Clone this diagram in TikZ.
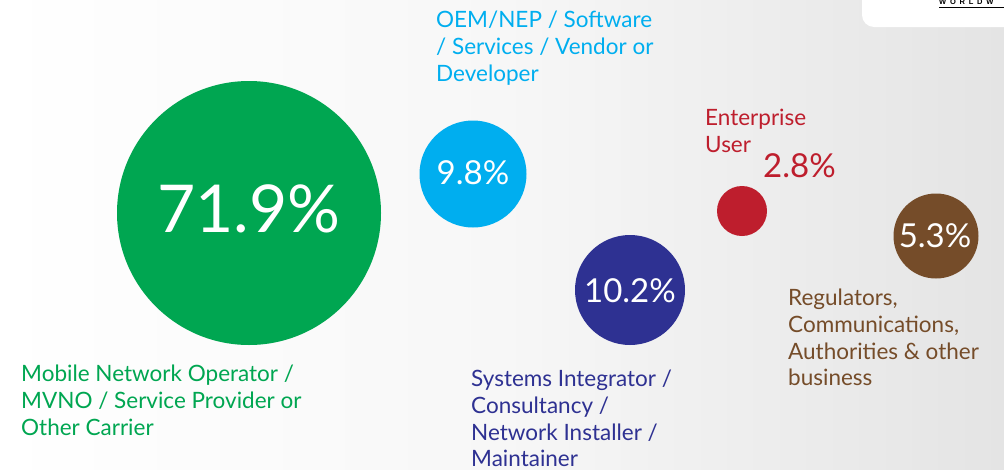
\documentclass[tikz,border=0pt]{standalone}
\usepackage{fontspec}
\setmainfont{Lato}
\newfontfamily\logofont{Liberation Sans}
\definecolor{cgreen}{HTML}{00A651}
\definecolor{cblue}{HTML}{00AEEF}
\definecolor{cnavy}{HTML}{2E3192}
\definecolor{cred}{HTML}{BE1E2D}
\definecolor{cbrown}{HTML}{754C29}
\definecolor{bgright}{HTML}{E4E4E4}
\definecolor{bgmid}{HTML}{F7F7F7}
\tikzset{x=1pt,y=-1pt,
 bub/.style={circle,inner sep=0pt,text=white},
 pct/.style={text=white,inner sep=0pt,font=\fontsize{33}{33}\selectfont},
 lab/.style={anchor=north west,inner sep=0pt,align=left,font=\fontsize{22.5}{26.7}\selectfont}}
\begin{document}
\begin{tikzpicture}
\useasboundingbox (0,0) rectangle (1004,469);
\shade[left color=white,right color=bgright,middle color=bgmid] (0,0) rectangle (1004,469);
\fill[white,rounded corners=12pt] (862,-20) rectangle (1024,27);
\node[font=\logofont\bfseries\fontsize{7.5}{7.5}\selectfont,anchor=west,inner sep=0pt] (w) at (939,2) {W\,\,\,O\,\,\,R\,\,\,L\,\,\,D\,\,\,W};
\coordinate (u1) at (939,7.5);
\coordinate (u2) at (1004,7.5);
\draw[line width=0.8pt] (u1) -- (u2);
\node[bub,fill=cgreen,minimum size=264pt] (a) at (249,213) {};
\node[text=white,inner sep=0pt,font=\fontsize{66}{66}\selectfont] (at) at (249,209) {71.9\%};
\node[bub,fill=cblue,minimum size=107pt] (b) at (473,174) {};
\node[pct] (bt) at (473,173) {9.8\%};
\node[bub,fill=cnavy,minimum size=110pt] (c) at (630,290) {};
\node[pct] (ct) at (630,291) {10.2\%};
\node[bub,fill=cred,minimum size=50pt] (d) at (742,211) {};
\node[bub,fill=cbrown,minimum size=85pt] (e) at (936,236) {};
\node[pct] (et) at (935,236) {5.3\%};
\node[lab,text=cgreen] (la) at (21,365) {Mobile Network Operator /\\MVNO / Service Provider or\\Other Carrier};
\node[lab,text=cblue] (lb) at (436,11) {OEM/NEP / Software\\/ Services / Vendor or\\Developer};
\node[lab,text=cnavy] (lc) at (471,370) {Systems Integrator /\\Consultancy /\\Network Installer /\\Maintainer};
\node[lab,text=cred] (ld) at (705,109) {Enterprise\\User};
\node[text=cred,anchor=west,inner sep=0pt,font=\fontsize{33}{33}\selectfont] (ld2) at (763,166) {2.8\%};
\node[lab,text=cbrown] (le) at (788,289) {Regulators,\\Communications,\\Authorities \& other\\business};
\end{tikzpicture}
\end{document}
